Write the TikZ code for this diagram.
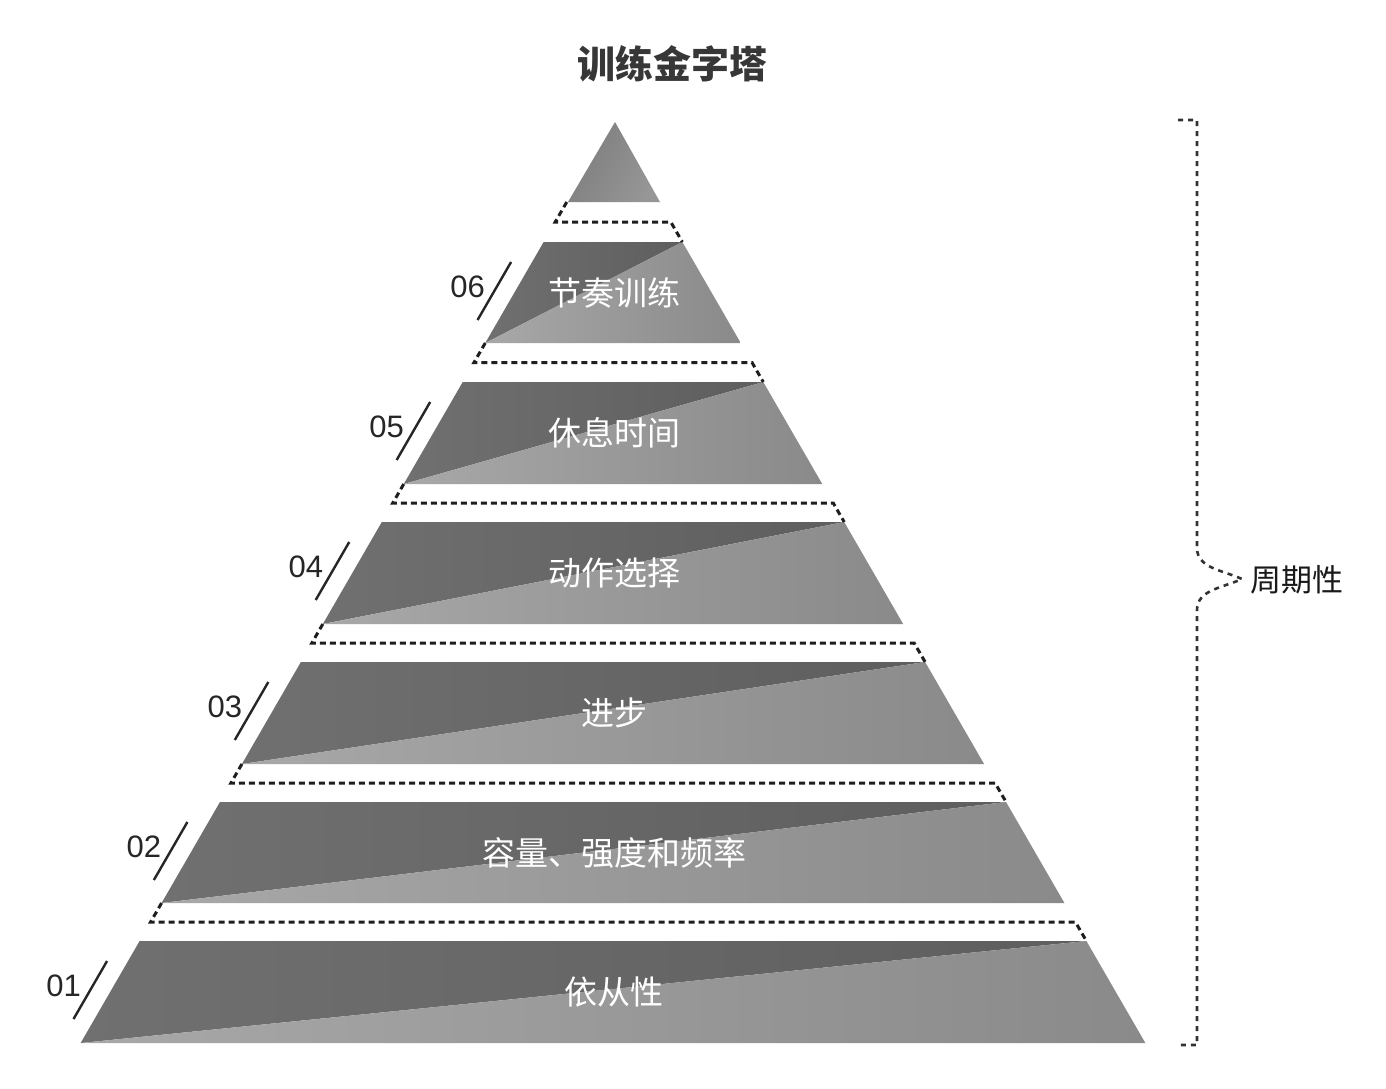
\documentclass[tikz,border=0pt]{standalone}
\usepackage{fontspec}
\setmainfont{Liberation Sans}
\newfontfamily\cjk{Noto Sans CJK SC}
\definecolor{dkL}{RGB}{112,112,112}
\definecolor{dkR}{RGB}{94,94,94}
\definecolor{ltL}{RGB}{168,168,168}
\definecolor{ltR}{RGB}{138,138,138}
\definecolor{triA}{RGB}{125,125,125}
\definecolor{triB}{RGB}{150,150,150}
\definecolor{dashc}{RGB}{30,30,30}
\definecolor{titlec}{RGB}{55,55,55}
\begin{document}
\begin{tikzpicture}[x=1pt,y=-1pt,
  bandtext/.style={text=white,font=\fontsize{33}{33}\selectfont\cjk,inner sep=0pt},
  numtext/.style={text=black!85,font=\fontsize{31}{31}\selectfont,inner sep=0pt},
  slash/.style={line width=2.4pt,black!85},
  gapdash/.style={line width=3pt,dashc,dash pattern=on 6pt off 4pt},
  bracedash/.style={line width=2.6pt,black!80,dash pattern=on 5pt off 5pt}]
\useasboundingbox (0,0) rectangle (1386,1088);
\fill[white] (0,0) rectangle (1386,1088);
\def\cx{613}
\def\kk{0.578}
\def\ay{122}
% title
\node[text=titlec,font=\fontsize{38}{38}\selectfont\cjk\bfseries,inner sep=0pt] (title) at (672,64) {训练金字塔};
% top triangle
\shade[left color=triA,right color=triB,shading angle=60] (615,122) -- (660,202) -- (568,202) -- cycle;
% bands
\foreach \yt/\yb/\txt/\num in {242/343/节奏训练/06, 382/484/休息时间/05, 522/624/动作选择/04, 662/764/进步/03, 802/903/容量、强度和频率/02, 941/1043/依从性/01}{
  \pgfmathsetmacro\xlt{\cx-(\yt-\ay)*\kk}
  \pgfmathsetmacro\xrt{\cx+(\yt-\ay)*\kk}
  \pgfmathsetmacro\xlb{\cx-(\yb-\ay)*\kk}
  \pgfmathsetmacro\xrb{\cx+(\yb-\ay)*\kk}
  \shade[left color=dkL,right color=dkR] (\xlb,\yb) -- (\xlt,\yt) -- (\xrt,\yt) -- cycle;
  \shade[left color=ltL,right color=ltR] (\xlb,\yb) -- (\xrt,\yt) -- (\xrb,\yb) -- cycle;
  \pgfmathsetmacro\ym{(\yt+\yb)/2}
  \node[bandtext] (band\num) at (614,\ym) {\txt};
  \pgfmathsetmacro\yn{\yt+45}
  \pgfmathsetmacro\xn{\cx-(\yn-\ay)*\kk-50}
  \node[numtext] (num\num) at (\xn,\yn) {\num};
  \pgfmathsetmacro\ysa{\yt+20}
  \pgfmathsetmacro\ysb{\yt+78}
  \pgfmathsetmacro\xsa{\cx-(\ysa-\ay)*\kk-21}
  \pgfmathsetmacro\xsb{\cx-(\ysb-\ay)*\kk-21}
  \coordinate (sa\num) at (\xsa,\ysa);
  \coordinate (sb\num) at (\xsb,\ysb);
  \draw[slash] (sb\num) -- (sa\num);
}
% gap dashed connectors
\foreach \ya/\yc in {202/242, 343/382, 484/522, 624/662, 764/802, 903/941}{
  \pgfmathsetmacro\ym{(\ya+\yc)/2}
  \pgfmathsetmacro\xla{\cx-(\ya-\ay)*\kk}
  \pgfmathsetmacro\xlm{\cx-(\ym-\ay)*\kk}
  \pgfmathsetmacro\xrm{\cx+(\ym-\ay)*\kk}
  \pgfmathsetmacro\xrc{\cx+(\yc-\ay)*\kk}
  \draw[gapdash] (\xla,\ya) -- (\xlm,\ym) -- (\xrm,\ym) -- (\xrc,\yc);
}
% brace
\node[text=black!90,font=\fontsize{31}{31}\selectfont\cjk,inner sep=0pt,anchor=west] (period) at (1250,580) {周期性};
\coordinate (tip) at (1242,579);
\coordinate (btop) at (1178,120);
\coordinate (bbot) at (1178,1045);
\draw[bracedash] (btop) -- (1197,120) -- (1197,548) .. controls (1197,568) and (1222,570) .. (tip) .. controls (1222,588) and (1197,590) .. (1197,610) -- (1197,1045) -- (bbot);
\end{tikzpicture}
\end{document}
